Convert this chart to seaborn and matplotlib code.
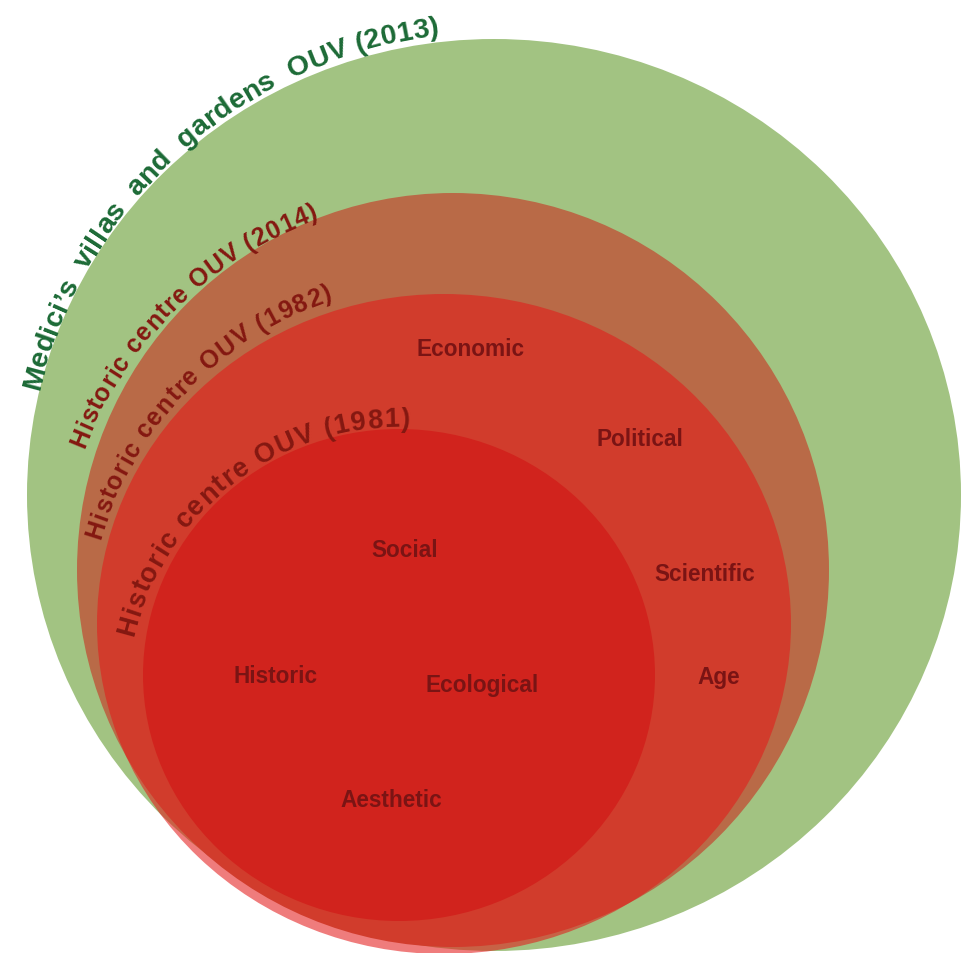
import numpy as np
import matplotlib
matplotlib.use("Agg")
import matplotlib.pyplot as plt
from matplotlib.patches import Ellipse
from matplotlib.font_manager import FontProperties, findfont
from matplotlib.ft2font import FT2Font
import seaborn as sns

# OUV sets, outermost first
set_labels = ["Medici\u2019s  villas  and  gardens  OUV (2013)",
              "Historic centre OUV (2014)",
              "Historic centre OUV (1982)",
              "Historic centre OUV (1981)"]
set_colors = ["#A2C382", "#B96A47", "#E41919", "#D1231D"]
set_alpha = [1.0, 1.0, 0.57, 1.0]
label_colors = ["#1C6A36", "#841811", "#841811", "#841811"]
label_sizes = [20.5, 18, 18, 19.5]

# ellipse geometry in pixels (x, y from top), width, height
set_cx = [494, 453, 444, 399]
set_cy = [496, 571, 625, 676]
set_w = [934, 752, 694, 512]
set_h = [912, 754, 660, 492]

# curved label arcs: centre, radius, start/end angle (deg)
arc_cx = [494, 453, 444, 399]
arc_cy = [500, 590, 640, 700]
arc_r = [468, 395, 358, 273]
arc_start = [166.5, 159.1, 163.8, 166.7]
arc_end = [96.7, 109.8, 108.1, 87.7]

# heritage values
value_labels = ["Economic", "Political", "Social", "Scientific",
                "Historic", "Ecological", "Age", "Aesthetic"]
value_x = [471, 640, 405, 705, 276, 482, 719, 391]
value_y = [350, 440, 551, 575, 677, 686, 678, 801]

sns.set_theme(style="white")
FAMILY = "Liberation Sans"
fp = FontProperties(family=FAMILY, weight="bold")
ft = FT2Font(findfont(fp))
ft.set_size(1, 72)


def advance(ch):
    g = ft.load_char(ord(ch))
    return g.linearHoriAdvance / 65536.0


def curved_text(ax, text, cx, cy, r, a0, a1, color, fs):
    # place characters one by one along a clockwise arc, spread to fill it
    adv = [advance(c) for c in text]
    em_px = fs * 100 / 72
    arc = r * np.radians(a0 - a1)
    gap = (arc - sum(adv) * em_px) / (len(text) - 1)
    pos = 0.0
    for c, w in zip(text, adv):
        mid = pos + w * em_px / 2
        th = np.radians(a0) - mid / r
        x = cx + r * np.cos(th)
        y = cy - r * np.sin(th)
        ax.text(x, y, c, rotation=np.degrees(th) - 90, rotation_mode="anchor",
                ha="center", va="baseline", fontsize=fs, color=color,
                family=FAMILY, weight="bold", zorder=10)
        pos += w * em_px + gap


fig = plt.figure(figsize=(9.63, 9.54), dpi=100)
ax = fig.add_axes([0, 0, 1, 1])
ax.set_xlim(0, 963)
ax.set_ylim(954, 0)
ax.axis("off")

for i in range(len(set_labels)):
    ax.add_patch(Ellipse((set_cx[i], set_cy[i]), set_w[i], set_h[i],
                         facecolor=set_colors[i], alpha=set_alpha[i],
                         edgecolor="none", zorder=i + 1))

for i, lab in enumerate(set_labels):
    curved_text(ax, lab, arc_cx[i], arc_cy[i], arc_r[i], arc_start[i],
                arc_end[i], label_colors[i], label_sizes[i])

for lab, x, y in zip(value_labels, value_x, value_y):
    ax.text(x, y, lab, ha="center", va="center", fontsize=16.3,
            color="#7A1414", family=FAMILY, weight="bold", zorder=10)

fig.savefig("out.png", dpi=100, facecolor="white")
